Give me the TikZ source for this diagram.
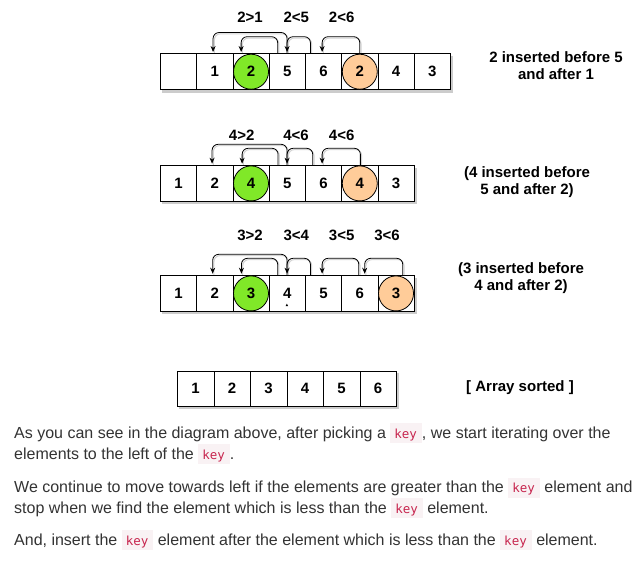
\documentclass[tikz,border=0pt]{standalone}
\usepackage{fontspec}
\setmainfont{Liberation Sans}
\newfontfamily\keyfont{DejaVu Sans Mono}
\usetikzlibrary{arrows.meta}
\pgfdeclarelayer{bg}
\pgfsetlayers{bg,main}
\definecolor{txt}{HTML}{333333}
\definecolor{keybg}{HTML}{F9F2F4}
\definecolor{keyfg}{HTML}{C7254E}
\definecolor{grn}{HTML}{80E828}
\definecolor{org}{HTML}{FFCC99}
\newcommand\dfont{\bfseries\fontsize{15}{17}\selectfont}
\newcommand\kbox{{\setlength\fboxsep{0pt}\colorbox{keybg}{\rule[-5pt]{0pt}{20pt}\hspace{4pt}{\keyfont\fontsize{12.5}{12.5}\selectfont\color{keyfg}key}\hspace{5pt}}}}
\newcommand\conn[5]{%
  \begin{pgfonlayer}{bg}
  \draw[arrshadow] ([xshift=#2+1.3pt,yshift=-1.3pt]#1.north) -- ++(0,-#3) -| ([xshift=#5+1.3pt,yshift=-1.3pt]#4.north);
  \end{pgfonlayer}
  \draw[arr] ([xshift=#2]#1.north) -- ++(0,-#3) -| ([xshift=#5]#4.north);}
\begin{document}
\begin{tikzpicture}[x=1pt,y=-1pt,
  cell/.style={draw=black,line width=0.8pt,fill=white,minimum width=36.25pt,minimum height=36pt,inner sep=0pt,anchor=north west,font=\dfont},
  scell/.style={cell,minimum width=36.5pt,minimum height=35pt},
  gcirc/.style={circle,draw=black,line width=0.8pt,fill=grn,minimum size=35pt,inner sep=0pt,font=\dfont},
  ocirc/.style={gcirc,fill=org},
  lbl/.style={font=\dfont,inner sep=0pt},
  rtext/.style={font=\dfont,align=center,inner sep=0pt},
  para/.style={font=\fontsize{16}{21}\selectfont,text=txt,inner sep=0pt,anchor=base west},
  arr/.style={draw=black,line width=0.8pt,rounded corners=6pt,-{Stealth[length=6pt,width=5pt]},shorten >=1.3pt},
  arrshadow/.style={draw=gray!35,line width=1pt,rounded corners=6pt,shorten >=1.3pt}]
\useasboundingbox (0,0) rectangle (644,568);
\begin{pgfonlayer}{bg}
\fill[white] (0,0) rectangle (644,568);
\end{pgfonlayer}

% Row 1
\foreach \i/\t in {1/{},2/1,3/{},4/5,5/6,6/{},7/4,8/3}
  \node[cell] (r1c\i) at ({160+(\i-1)*36.25},53.3) {\t};
\node[gcirc] (g1) at (r1c3.center) {2};
\node[ocirc] (o1) at (r1c6.center) {2};
\node[lbl] (l11) at (250,17) {2>1};
\node[lbl] (l12) at (296.3,17) {2<5};
\node[lbl] (l13) at (341.7,17) {2<6};
\conn{r1c4}{-0.2pt}{20.8}{r1c2}{-1.7pt}
\conn{r1c4}{-9.6pt}{16.6}{r1c3}{-9.9pt}
\conn{r1c5}{-13.1pt}{16.6}{r1c4}{-0.2pt}
\conn{r1c6}{0pt}{16.6}{r1c5}{-1.4pt}
\node[rtext] (t1) at (556,66) {2 inserted before 5\\and after 1};

% Row 2
\foreach \i/\t in {1/1,2/2,3/{},4/5,5/6,6/{},7/3}
  \node[cell] (r2c\i) at ({160+(\i-1)*36.25},165) {\t};
\node[gcirc] (g2) at (r2c3.center) {4};
\node[ocirc] (o2) at (r2c6.center) {4};
\node[lbl] (l21) at (241.7,135.5) {4>2};
\node[lbl] (l22) at (296,135.5) {4<6};
\node[lbl] (l23) at (341.7,135.5) {4<6};
\conn{r2c4}{-0.2pt}{20.7}{r2c2}{-2.7pt}
\conn{r2c4}{-9.2pt}{16.7}{r2c3}{-8.9pt}
\conn{r2c5}{-10.8pt}{16.7}{r2c4}{-0.2pt}
\conn{r2c6}{0.6pt}{16.7}{r2c5}{-1.4pt}
\node[rtext] (t2) at (527,182) {(4 inserted before\\5 and after 2)};

% Row 3
\foreach \i/\t in {1/1,2/2,3/{},4/4,5/5,6/6,7/{}}
  \node[cell] (r3c\i) at ({160+(\i-1)*36.25},275) {\t};
\node[gcirc] (g3) at (r3c3.center) {3};
\node[ocirc] (o3) at (r3c7.center) {3};
\node[lbl] (l31) at (250,235.3) {3>2};
\node[lbl] (l32) at (296.3,235.3) {3<4};
\node[lbl] (l33) at (341.7,235.3) {3<5};
\node[lbl] (l34) at (387,235.3) {3<6};
\conn{r3c4}{-0.2pt}{20.7}{r3c2}{-2.1pt}
\conn{r3c4}{-9.6pt}{16.7}{r3c3}{-9.6pt}
\conn{r3c5}{-13.1pt}{16.7}{r3c4}{-0.2pt}
\conn{r3c6}{-1pt}{16.7}{r3c5}{-1.4pt}
\conn{r3c7}{6.7pt}{16.7}{r3c6}{4.9pt}
\fill (285.7,306) -- (286.9,303.6) -- (288.1,306) -- cycle;
\node[rtext] (t3) at (521,278.4) {(3 inserted before\\4 and after 2)};

% Row 4
\foreach \i in {1,...,6}
  \node[scell] (r4c\i) at ({177+(\i-1)*36.5},370.7) {\i};
\node[rtext] (t4) at (520,388) {[ Array sorted ]};

% shadows of the arrays
\begin{pgfonlayer}{bg}
\fill[gray!40] ([shift={(2pt,-2.5pt)}]r1c1.north west) rectangle ([shift={(2pt,-2.5pt)}]r1c8.south east);
\fill[gray!40] ([shift={(2pt,-2.5pt)}]r2c1.north west) rectangle ([shift={(2pt,-2.5pt)}]r2c7.south east);
\fill[gray!40] ([shift={(2pt,-2.5pt)}]r3c1.north west) rectangle ([shift={(2pt,-2.5pt)}]r3c7.south east);
\fill[gray!40] ([shift={(2pt,-2.5pt)}]r4c1.north west) rectangle ([shift={(2pt,-2.5pt)}]r4c6.south east);
\end{pgfonlayer}

% Paragraphs
\node[para] (p1) at (14,438.3) {As you can see in the diagram above, after picking a \kbox, we start iterating over the};
\node[para] (p2) at (14,459.3) {elements to the left of the \kbox.};
\node[para] (p3) at (14,492.7) {We continue to move towards left if the elements are greater than the \kbox\ element and};
\node[para] (p4) at (14,513.3) {stop when we find the element which is less than the \kbox\ element.};
\node[para] (p5) at (14,545) {And, insert the \kbox\ element after the element which is less than the \kbox\ element.};
\end{tikzpicture}
\end{document}
